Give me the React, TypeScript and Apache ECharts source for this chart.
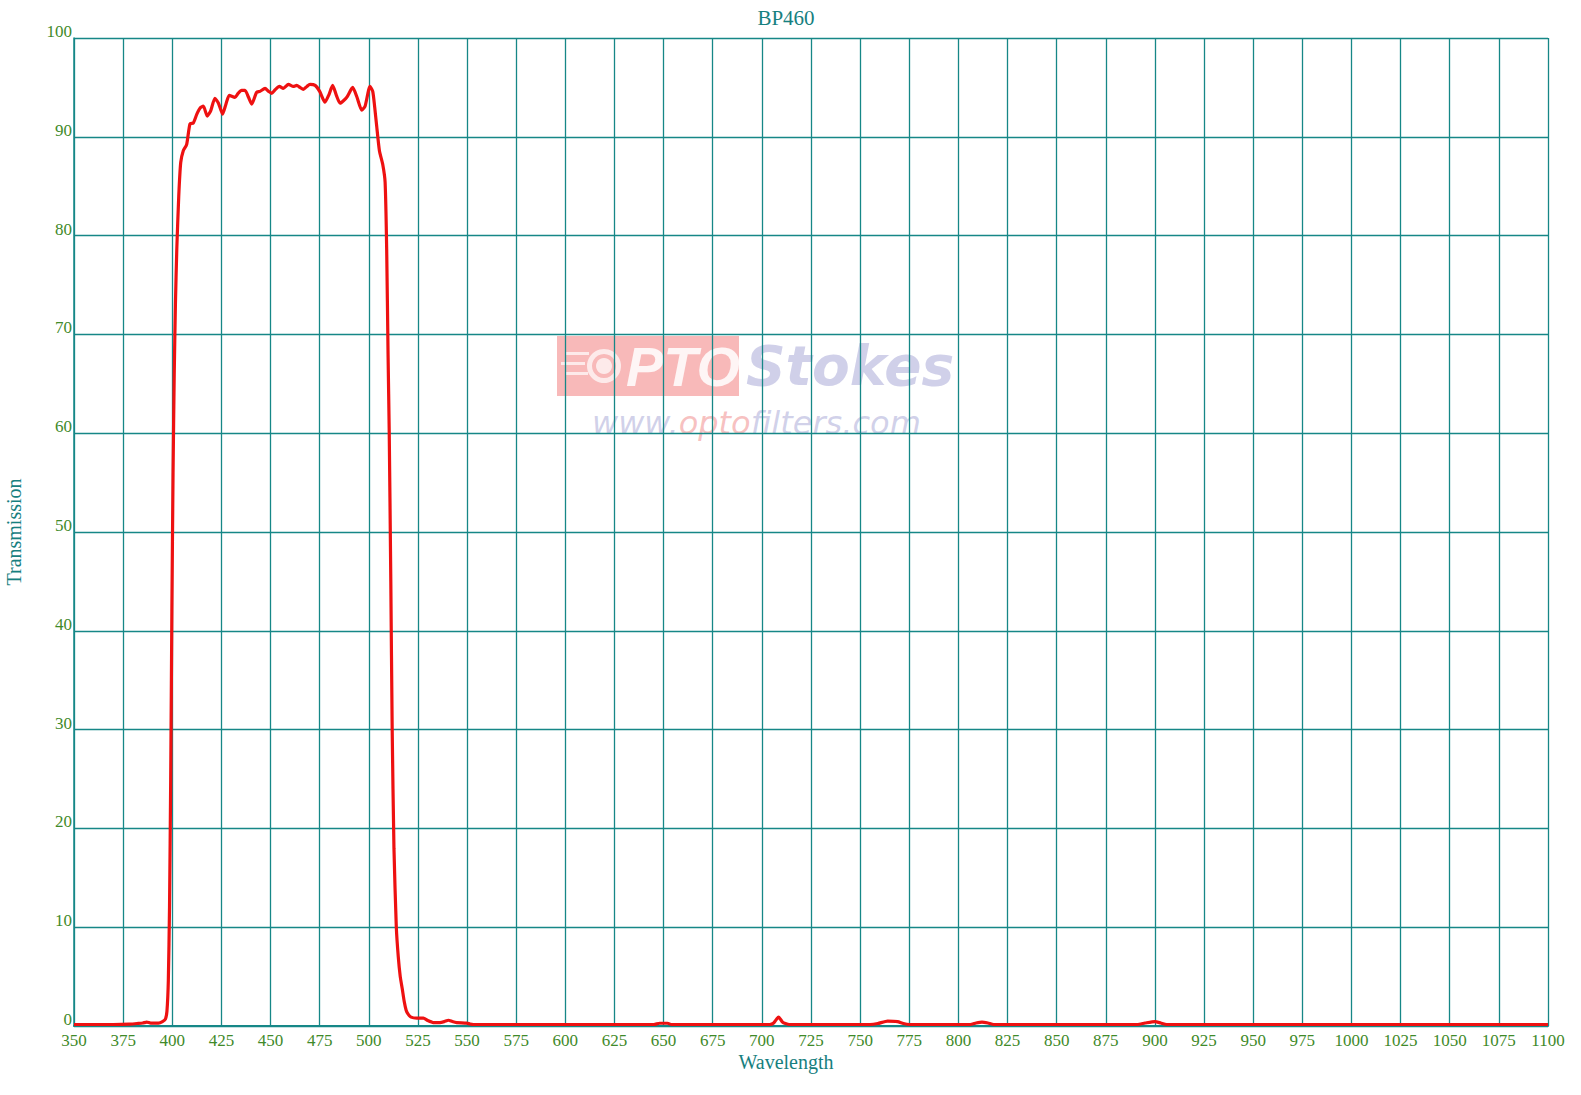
import React, { useEffect, useRef } from "react";
import * as echarts from "echarts";

const chartTitle = "BP460";
const xAxisName = "Wavelength";
const yAxisName = "Transmission";

const wavelength: number[] = [
  350, 370, 378, 382, 385, 387, 389, 393, 395, 396.5, 397.3, 398, 398.6, 399.2, 399.8, 400.4, 401, 401.6,
  402.3, 403.3, 404.3, 405.6, 407.3, 409, 410.7, 412.5, 414.1, 415.8, 417.8, 419.5, 421.7, 423.5, 425.6,
  427.3, 429, 431.9, 433.5, 435.3, 437, 438.8, 440.4, 442.9, 444.6, 447.2, 449, 450.6, 452.5, 454.5,
  456.5, 459.1, 461.6, 463.3, 465, 466.7, 468.5, 470.1, 472.7, 475, 477.7, 479.8, 481.6, 483.5, 485.4,
  488.8, 491.8, 494, 496.4, 498.1, 500.6, 502, 503, 504, 505.4, 507.1, 508.3, 509.1, 509.8, 510.4, 511.2,
  511.9, 512.8, 514, 515, 516, 517, 518, 519, 520, 521.5, 524.4, 527.8, 530, 532.8, 536.2, 538.5, 540.5,
  542.5, 544.7, 549.8, 551.5, 553.2, 600, 645, 648, 652, 654, 704, 706, 708.5, 710.5, 712, 714, 755, 759,
  764, 769, 772, 775, 806, 809, 812, 815, 818, 891, 895, 900, 903, 906, 1100,
];

const transmission: number[] = [
  0.15, 0.15, 0.18, 0.25, 0.3, 0.4, 0.3, 0.3, 0.45, 0.7, 1.5, 4.6, 12, 25, 42, 56, 66, 73,
  78.6, 84, 87.4, 88.6, 89.2, 91.3, 91.4, 92.3, 92.9, 93.1, 92.1, 92.6, 93.9, 93.4, 92.3,
  93.3, 94.2, 94.0, 94.4, 94.7, 94.7, 94.0, 93.3, 94.5, 94.6, 94.9, 94.6, 94.4, 94.8, 95.1,
  94.9, 95.3, 95.1, 95.2, 95.0, 94.8, 95.1, 95.3, 95.2, 94.6, 93.5, 94.3, 95.2, 94.2, 93.4,
  94.0, 95.0, 94.0, 92.7, 93.1, 95.1, 94.6, 93.0, 91.1, 88.6, 87.2, 85.4, 78.6, 68, 60, 45,
  30, 18, 10, 7, 5, 3.8, 2.5, 1.6, 1.2, 0.9, 0.8, 0.8, 0.55, 0.35, 0.35, 0.45, 0.58,
  0.45, 0.35, 0.3, 0.2, 0.15, 0.15, 0.15, 0.28, 0.28, 0.15, 0.15, 0.3, 0.9, 0.4, 0.25, 0.15, 0.15, 0.25,
  0.5, 0.45, 0.25, 0.15, 0.15, 0.3, 0.4, 0.3, 0.15, 0.15, 0.3, 0.45, 0.3, 0.15, 0.15,
];

const xMin = 350;
const xMax = 1100;
const xStep = 25;
const yMin = 0;
const yMax = 100;
const yStep = 10;

const TEAL = "#17807f";
const GRID = "#168787";
const LABEL = "#3f8a2a";
const FONT = "'Liberation Serif', 'Times New Roman', serif";
const WM_BLUE = "rgba(170,170,215,0.55)";
const WM_RED = "rgba(240,140,140,0.55)";

export default function App() {
  const ref = useRef<HTMLDivElement>(null);

  useEffect(() => {
    if (!ref.current) return;
    const chart = echarts.init(ref.current, undefined, { renderer: "svg" });
    const data = wavelength.map((w, i) => [w, transmission[i]]);
    chart.setOption({
      animation: false,
      backgroundColor: "#ffffff",
      grid: { left: 74, right: 33, top: 38, bottom: 69, containLabel: false, outerBoundsMode: "none" },
      xAxis: {
        type: "value",
        min: xMin,
        max: xMax,
        interval: xStep,
        axisLine: { show: true, lineStyle: { color: GRID, width: 2 } },
        axisTick: { show: false },
        splitLine: { show: true, lineStyle: { color: GRID, width: 1.3 } },
        axisLabel: {
          color: LABEL,
          fontFamily: FONT,
          fontSize: 17,
          margin: 6,
          formatter: (v: number) => String(v),
        },
      },
      yAxis: {
        type: "value",
        min: yMin,
        max: yMax,
        interval: yStep,
        name: yAxisName,
        nameLocation: "middle",
        nameGap: 50,
        nameTextStyle: { color: TEAL, fontFamily: FONT, fontSize: 20 },
        axisLine: { show: true, lineStyle: { color: GRID, width: 1.5 } },
        axisTick: { show: false },
        splitLine: { show: true, lineStyle: { color: GRID, width: 1.3 } },
        axisLabel: {
          color: LABEL,
          fontFamily: FONT,
          fontSize: 17,
          margin: 2,
          verticalAlign: "bottom",
          lineHeight: 13,
          formatter: (v: number) => String(v),
        },
      },
      graphic: [
        {
          type: "text", x: 786, y: 7,
          style: { text: chartTitle, fill: TEAL, font: `21px ${FONT}`, textAlign: "center" },
        },
        {
          type: "text", x: 786, y: 1052,
          style: { text: xAxisName, fill: TEAL, font: `20px ${FONT}`, textAlign: "center" },
        },
        { type: "rect", z: -1, left: 557, top: 336, shape: { width: 182, height: 60 }, style: { fill: "rgba(240,100,100,0.45)" } },
        { type: "rect", z: -1, left: 565, top: 352, shape: { width: 24, height: 3 }, style: { fill: "rgba(255,255,255,0.7)" } },
        { type: "rect", z: -1, left: 561, top: 362, shape: { width: 24, height: 3 }, style: { fill: "rgba(255,255,255,0.7)" } },
        { type: "rect", z: -1, left: 566, top: 372, shape: { width: 22, height: 3 }, style: { fill: "rgba(255,255,255,0.7)" } },
        { type: "ring", z: -1, shape: { cx: 604, cy: 366, r: 17, r0: 12 }, style: { fill: "rgba(255,255,255,0.7)" } },
        { type: "circle", z: -1, shape: { cx: 604, cy: 366, r: 8 }, style: { fill: "rgba(255,255,255,0.7)" } },
        {
          type: "text", z: -1, left: 626, top: 338,
          style: { text: "PTO", fill: "rgba(255,255,255,0.85)", font: "italic bold 56px 'Liberation Sans', sans-serif" },
        },
        {
          type: "text", z: -1, left: 746, top: 338,
          style: { text: "Stokes", fill: WM_BLUE, font: "italic bold 55px 'DejaVu Sans', sans-serif" },
        },
        {
          type: "text", z: -1, left: 592, top: 407,
          style: {
            text: "{a|www.}{b|opto}{a|filters.com}",
            rich: {
              a: { fill: WM_BLUE, font: "italic 32px 'DejaVu Sans', sans-serif" },
              b: { fill: WM_RED, font: "italic 32px 'DejaVu Sans', sans-serif" },
            },
          },
        },
      ],
      series: [
        {
          type: "line",
          data,
          showSymbol: false,
          smooth: 0.2,
          lineStyle: { color: "#ee1111", width: 3.2 },
          itemStyle: { color: "#ee1111" },
          z: 5,
        },
      ],
    });
    return () => chart.dispose();
  }, []);

  return (
    <div
      ref={ref}
      style={{ position: "fixed", left: 0, top: 0, width: 1581, height: 1095, background: "#fff" }}
    />
  );
}
